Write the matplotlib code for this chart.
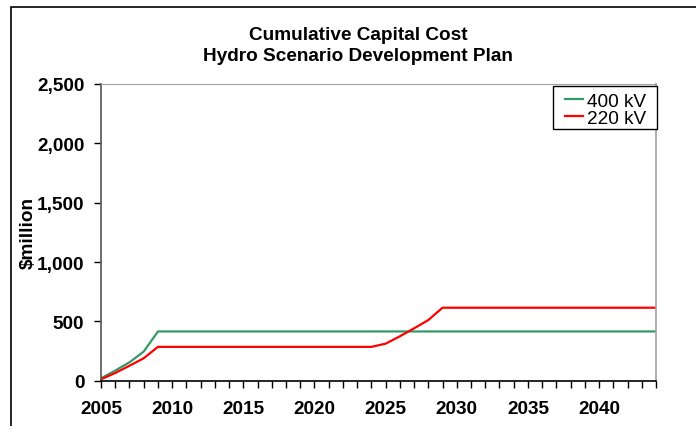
import matplotlib
matplotlib.use("Agg")
import matplotlib.pyplot as plt
from matplotlib.patches import Rectangle
from matplotlib.ticker import MultipleLocator, FuncFormatter

plt.rcParams['font.family'] = ['Liberation Sans', 'DejaVu Sans']

years = list(range(2005, 2045))
kv400 = [20, 85, 155, 245] + [415] * 36
kv220 = [12, 65, 126, 189] + [285] * 16 + [312, 374, 441, 511] + [615] * 16

W, H = 696, 427
fig = plt.figure(figsize=(W / 100, H / 100), dpi=100)


def fx(px):
    return px / W


def fy(py):
    return 1 - py / H


# outer chart frame
fig.patches.append(Rectangle((fx(11), -0.1), 1.2, fy(8) + 0.1,
                             transform=fig.transFigure, fill=False,
                             edgecolor='black', linewidth=1.2))

ax = fig.add_axes([fx(101), fy(381.7), fx(656 - 101), (381.7 - 85) / H])

l1, = ax.plot(years, kv400, color='#339966', linewidth=1.6, label='400 kV')
l2, = ax.plot(years, kv220, color='#ff0000', linewidth=1.6, label='220 kV')

ax.set_xlim(2005, 2044)
ax.set_ylim(0, 2500)

ax.xaxis.set_major_locator(MultipleLocator(5))
ax.xaxis.set_minor_locator(MultipleLocator(1))
ax.yaxis.set_major_locator(MultipleLocator(500))
ax.yaxis.set_major_formatter(FuncFormatter(lambda v, p: f"{int(v):,}"))

ax.tick_params(axis='x', which='both', direction='out', length=5, width=1, color='black',
               labelsize=13.7, pad=9)
ax.tick_params(axis='y', direction='out', length=5, width=1, color='black',
               labelsize=13.7, pad=7)
for lab in ax.get_xticklabels() + ax.get_yticklabels():
    lab.set_fontweight('bold')

ax.spines['left'].set_color('#555555')
ax.spines['left'].set_linewidth(1.2)
ax.spines['bottom'].set_color('black')
ax.spines['bottom'].set_linewidth(1.2)
ax.spines['top'].set_color('#a0a0a0')
ax.spines['right'].set_color('#a0a0a0')
ax.spines['right'].set_linewidth(1.2)

ax.set_ylabel('$million', fontsize=13.7, fontweight='bold', labelpad=0)

fig.text(fx(358), fy(40), 'Cumulative Capital Cost',
         ha='center', va='baseline', fontsize=13.7, fontweight='bold')
fig.text(fx(358), fy(61), 'Hydro Scenario Development Plan',
         ha='center', va='baseline', fontsize=13.7, fontweight='bold')

# legend box drawn separately so its padding can differ per side
legend_frame = Rectangle((fx(552.7), fy(130)), fx(657.3 - 552.7), (130 - 86.7) / H,
                         transform=fig.transFigure, facecolor='white',
                         edgecolor='black', linewidth=1.0, clip_on=False, zorder=4)
ax.add_artist(legend_frame)

fs = 13.7
em = fs * 100 / 72
leg = ax.legend(handles=[l1, l2], loc='upper left',
                bbox_to_anchor=(fx(565 - 0.2 * em), fy(89.5)), bbox_transform=fig.transFigure,
                fontsize=fs, frameon=False, handlelength=17.7 / em,
                handletextpad=4 / em, borderpad=0.2, labelspacing=-0.02, borderaxespad=0)
leg.set_zorder(5)

fig.savefig('out.png', dpi=100)
